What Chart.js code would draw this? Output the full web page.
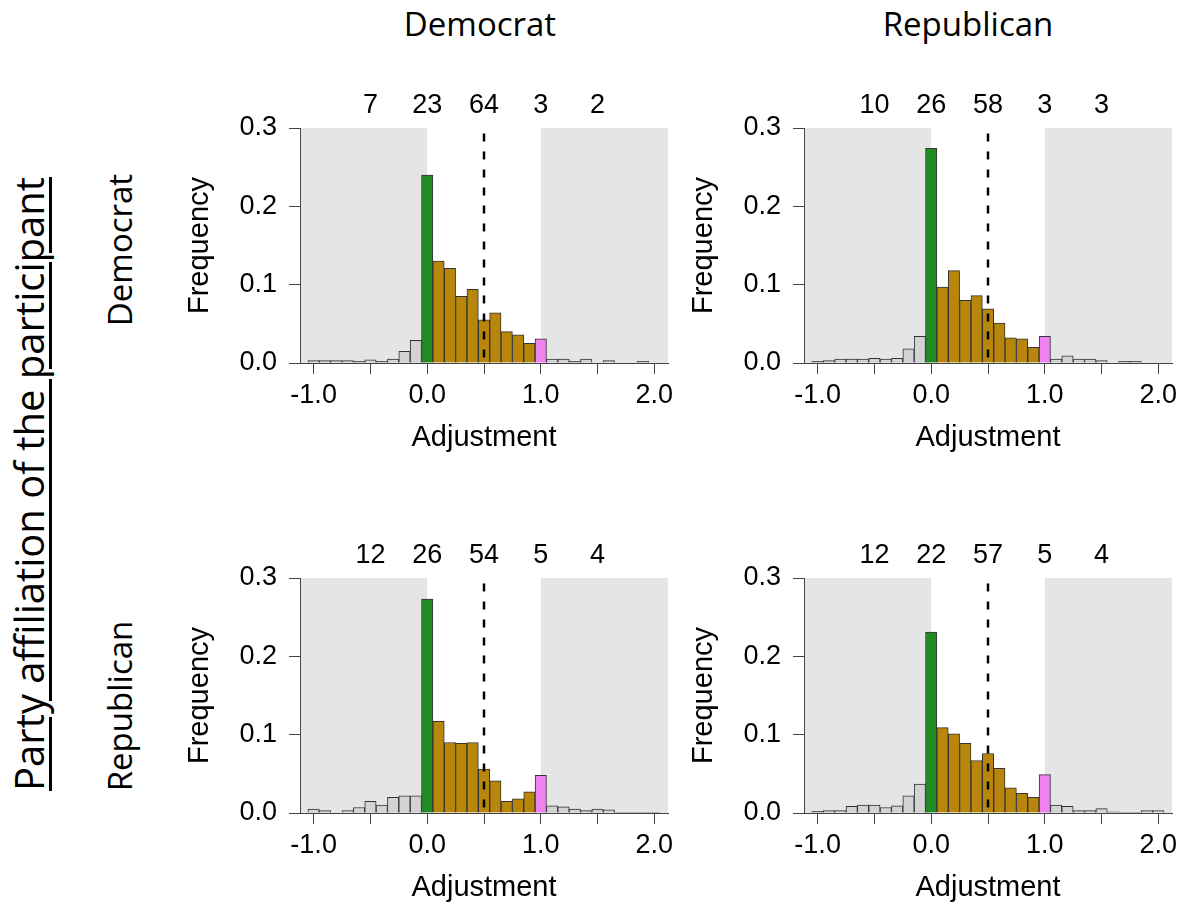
<!DOCTYPE html>
<html>
<head>
<meta charset="utf-8">
<title>Adjustment by party affiliation</title>
<script src="https://cdn.jsdelivr.net/npm/chart.js@4.4.1/dist/chart.umd.min.js"></script>
<style>
    body { margin: 0; background: #fff; }
    #page { position: relative; width: 1184px; height: 909px; overflow: hidden; color: #000; font-family: 'Open Sans', sans-serif; }
    #page canvas { position: absolute; }
    .label { position: absolute; white-space: nowrap; line-height: 1; font-size: 33px; transform: translate(-50%, -50%); }
    .rot { transform: translate(-50%, -50%) rotate(-90deg); }
    .big { font-size: 40px; text-decoration: underline; text-decoration-thickness: 3px; text-underline-offset: 5px; }
</style>
</head>
<body>
<div id="page">
    <canvas id="panelDemDem" width="510" height="400" style="left:170px; top:70px"></canvas>
    <canvas id="panelDemRep" width="510" height="400" style="left:674px; top:70px"></canvas>
    <canvas id="panelRepDem" width="510" height="400" style="left:170px; top:520px"></canvas>
    <canvas id="panelRepRep" width="510" height="400" style="left:674px; top:520px"></canvas>
</div>
<script>
// Histogram bins (centre of each 0.1 wide bin)
const bins = [-1.0, -0.9, -0.8, -0.7, -0.6, -0.5, -0.4, -0.3, -0.2, -0.1,
              0.0, 0.1, 0.2, 0.3, 0.4, 0.5, 0.6, 0.7, 0.8, 0.9,
              1.0, 1.1, 1.2, 1.3, 1.4, 1.5, 1.6, 1.7, 1.8, 1.9, 2.0];

// Frequencies per bin: row = participant, column = panel header
const freqDemDem = [0.003, 0.003, 0.003, 0.003, 0.002, 0.004, 0.002, 0.005, 0.015, 0.029,
                    0.240, 0.130, 0.121, 0.085, 0.094, 0.055, 0.064, 0.040, 0.036, 0.025,
                    0.031, 0.005, 0.005, 0.002, 0.005, 0, 0.003, 0, 0, 0.002, 0];
const freqDemRep = [0.002, 0.003, 0.005, 0.005, 0.005, 0.006, 0.005, 0.006, 0.018, 0.034,
                    0.274, 0.097, 0.118, 0.080, 0.086, 0.069, 0.051, 0.032, 0.031, 0.020,
                    0.034, 0.005, 0.009, 0.005, 0.005, 0.003, 0, 0.002, 0.002, 0, 0];
const freqRepDem = [0.005, 0.003, 0, 0.003, 0.007, 0.015, 0.010, 0.020, 0.022, 0.022,
                    0.273, 0.117, 0.090, 0.089, 0.090, 0.056, 0.041, 0.015, 0.018, 0.027,
                    0.048, 0.009, 0.008, 0.005, 0.003, 0.005, 0.004, 0.001, 0.001, 0.001, 0.001];
const freqRepRep = [0.002, 0.003, 0.003, 0.0085, 0.010, 0.010, 0.007, 0.009, 0.022, 0.037,
                    0.231, 0.109, 0.101, 0.089, 0.067, 0.076, 0.057, 0.032, 0.025, 0.020,
                    0.049, 0.010, 0.0085, 0.003, 0.003, 0.0055, 0.0015, 0.001, 0.001, 0.003, 0.003];

// Percentages printed above each panel and where they sit on the x axis
const countPositions = [-0.5, 0.0, 0.5, 1.0, 1.5];
const countsDemDem = [7, 23, 64, 3, 2];
const countsDemRep = [10, 26, 58, 3, 3];
const countsRepDem = [12, 26, 54, 5, 4];
const countsRepRep = [12, 22, 57, 5, 4];

// Axis ticks and labels
const xTicks = [-1.0, -0.5, 0.0, 0.5, 1.0, 1.5, 2.0];
const yTicks = [0.0, 0.1, 0.2, 0.3];
const columnLabels = ['Democrat', 'Republican'];
const rowLabels = ['Democrat', 'Republican'];
const sideTitle = 'Party affiliation of the participant';
const xTitle = 'Adjustment';
const yTitle = 'Frequency';

// Reference lines / shaded zones
const midLine = 0.5;
const shadeLow = 0.0;
const shadeHigh = 1.0;

const X_MIN = -1.12, X_MAX = 2.12, Y_MAX = 0.3;
const AXIS_COLOR = '#444';
const R_FONT = "'Liberation Sans', Arial, sans-serif";

// Bin fill colour depends on where the bin falls
function binColor(v) {
    if (Math.abs(v) < 1e-9) return '#228B22';        // no adjustment
    if (Math.abs(v - 1) < 1e-9) return '#EE82EE';    // full adjustment
    if (v > 0 && v < 1) return '#B8860B';            // partial
    return '#D3D3D3';                                // outside 0..1
}

// Shading, dashed midline and the counts above the panel
function panelDecor(counts) {
    return {
        id: 'panelDecor',
        beforeDraw(chart) {
            const { ctx, chartArea, scales: { x, y } } = chart;
            const top = y.getPixelForValue(Y_MAX);
            const base = y.getPixelForValue(0);
            ctx.save();
            ctx.fillStyle = '#E5E5E5';
            const x0 = x.getPixelForValue(shadeLow);
            const x1 = x.getPixelForValue(shadeHigh);
            ctx.fillRect(chartArea.left + 1, top, x0 - chartArea.left - 1, base - top);
            ctx.fillRect(x1, top, chartArea.right - x1, base - top);
            ctx.restore();
        },
        afterDatasetsDraw(chart) {
            const { ctx, scales: { x, y } } = chart;
            const px = x.getPixelForValue(midLine);
            ctx.save();
            ctx.strokeStyle = '#000';
            ctx.lineWidth = 2.5;
            ctx.setLineDash([8, 10]);
            ctx.beginPath();
            ctx.moveTo(px, y.getPixelForValue(0.293));
            ctx.lineTo(px, y.getPixelForValue(0));
            ctx.stroke();
            ctx.restore();
        },
        afterDraw(chart) {
            const { ctx, scales: { x, y } } = chart;
            ctx.save();
            ctx.fillStyle = '#000';
            ctx.font = '27px ' + R_FONT;
            ctx.textAlign = 'center';
            ctx.textBaseline = 'middle';
            const ty = y.getPixelForValue(Y_MAX) - 22;
            counts.forEach(function(c, i) {
                ctx.fillText(String(c), x.getPixelForValue(countPositions[i]), ty);
            });
            ctx.restore();
        }
    };
}

function createPanel(id, freqs, counts) {
    const ctx = document.getElementById(id);
    if (!ctx) return;

    new Chart(ctx, {
        type: 'bar',
        data: {
            datasets: [{
                data: bins.map(function(b, i) { return { x: b, y: freqs[i] }; }),
                backgroundColor: bins.map(binColor),
                borderColor: '#333',
                borderWidth: 1,
                barPercentage: 1.0,
                categoryPercentage: 1.0
            }]
        },
        options: {
            responsive: false,
            animation: false,
            events: [],
            layout: {
                padding: { left: 0, right: 12, top: 58, bottom: 7 }
            },
            plugins: {
                legend: { display: false },
                tooltip: { enabled: false }
            },
            scales: {
                x: {
                    type: 'linear',
                    min: X_MIN,
                    max: X_MAX,
                    offset: false,
                    afterBuildTicks: function(scale) {
                        scale.ticks = xTicks.map(function(v) { return { value: v }; });
                    },
                    afterFit: function(scale) { scale.height = 100; },
                    grid: {
                        offset: false,
                        drawOnChartArea: false,
                        drawTicks: true,
                        tickLength: 11,
                        color: AXIS_COLOR
                    },
                    border: { display: true, color: AXIS_COLOR, width: 1 },
                    ticks: {
                        autoSkip: false,
                        maxRotation: 0,
                        padding: 5,
                        color: '#000',
                        font: { family: R_FONT, size: 27 },
                        callback: function(value) {
                            return Number.isInteger(value) ? value.toFixed(1) : '';
                        }
                    },
                    title: {
                        display: true,
                        text: xTitle,
                        color: '#000',
                        font: { family: R_FONT, size: 29 },
                        padding: { top: 0, bottom: 8 }
                    }
                },
                y: {
                    min: 0,
                    max: Y_MAX,
                    afterBuildTicks: function(scale) {
                        scale.ticks = yTicks.map(function(v) { return { value: v }; });
                    },
                    afterFit: function(scale) { scale.width = 130; },
                    grid: {
                        drawOnChartArea: false,
                        drawTicks: true,
                        tickLength: 11,
                        color: AXIS_COLOR
                    },
                    border: { display: true, color: AXIS_COLOR, width: 1 },
                    ticks: {
                        padding: 12,
                        color: '#000',
                        font: { family: R_FONT, size: 27 },
                        callback: function(value) { return Number(value).toFixed(1); }
                    },
                    title: {
                        display: true,
                        text: yTitle,
                        color: '#000',
                        font: { family: R_FONT, size: 29 },
                        padding: { top: 13, bottom: 0 }
                    }
                }
            }
        },
        plugins: [panelDecor(counts)]
    });
}

// Header / row / side labels as plain html text
function addLabel(text, cls, x, y) {
    const el = document.createElement('div');
    el.className = 'label ' + cls;
    el.textContent = text;
    el.style.left = x + 'px';
    el.style.top = y + 'px';
    document.getElementById('page').appendChild(el);
}

document.addEventListener('DOMContentLoaded', function() {
    addLabel(columnLabels[0], '', 480, 23);
    addLabel(columnLabels[1], '', 968, 23);
    addLabel(rowLabels[0], 'rot', 119, 250);
    addLabel(rowLabels[1], 'rot', 119, 706);
    addLabel(sideTitle, 'rot big', 29, 484);

    createPanel('panelDemDem', freqDemDem, countsDemDem);
    createPanel('panelDemRep', freqDemRep, countsDemRep);
    createPanel('panelRepDem', freqRepDem, countsRepDem);
    createPanel('panelRepRep', freqRepRep, countsRepRep);
});
</script>
</body>
</html>
